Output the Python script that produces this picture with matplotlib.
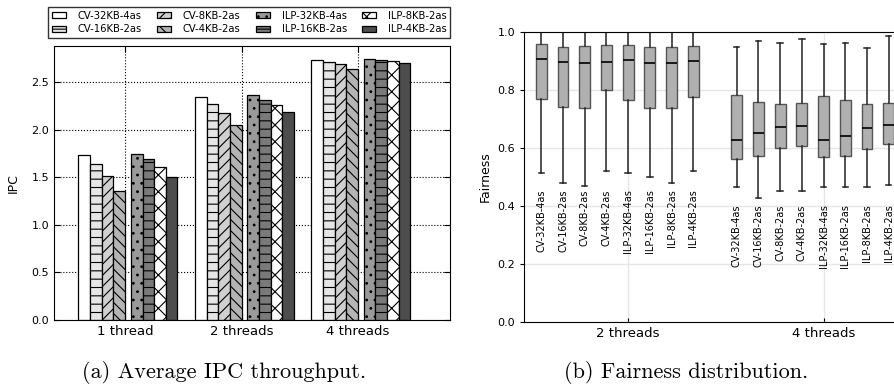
import matplotlib
matplotlib.use("Agg")
from matplotlib import pyplot as plt
import numpy as np

# configurations and groups
configs = ["CV-32KB-4as", "CV-16KB-2as", "CV-8KB-2as", "CV-4KB-2as",
           "ILP-32KB-4as", "ILP-16KB-2as", "ILP-8KB-2as", "ILP-4KB-2as"]
ipc_groups = ["1 thread", "2 threads", "4 threads"]
fair_groups = ["2 threads", "4 threads"]

# average IPC, one row per configuration (1, 2, 4 threads)
ipc = [
    [1.73, 2.345, 2.737],
    [1.635, 2.27, 2.716],
    [1.51, 2.175, 2.687],
    [1.355, 2.05, 2.635],
    [1.744, 2.36, 2.744],
    [1.69, 2.316, 2.733],
    [1.607, 2.26, 2.72],
    [1.50, 2.186, 2.70],
]

# fairness box stats: whisker low, q1, median, q3, whisker high
fair_2t_low = [0.514, 0.479, 0.470, 0.520, 0.514, 0.499, 0.480, 0.520]
fair_2t_q1 = [0.768, 0.742, 0.740, 0.800, 0.767, 0.740, 0.737, 0.777]
fair_2t_med = [0.907, 0.896, 0.894, 0.897, 0.905, 0.893, 0.893, 0.900]
fair_2t_q3 = [0.961, 0.950, 0.954, 0.957, 0.957, 0.950, 0.949, 0.953]
fair_2t_high = [1.0, 1.0, 1.0, 1.0, 1.0, 1.0, 1.0, 1.0]

fair_4t_low = [0.464, 0.426, 0.453, 0.452, 0.464, 0.464, 0.465, 0.472]
fair_4t_q1 = [0.563, 0.574, 0.599, 0.606, 0.570, 0.573, 0.598, 0.613]
fair_4t_med = [0.627, 0.651, 0.674, 0.675, 0.629, 0.643, 0.668, 0.679]
fair_4t_q3 = [0.783, 0.758, 0.753, 0.757, 0.781, 0.767, 0.753, 0.755]
fair_4t_high = [0.949, 0.971, 0.962, 0.977, 0.958, 0.963, 0.945, 0.988]

# bar styles
colors = ["white", "#e6e6e6", "#d0d0d0", "#b4b4b4", "#9a9a9a", "#7a7a7a", "white", "#4d4d4d"]
hatches = ["", "--", "///", "\\\\\\", "..", "--", "xx", ""]

W, H = 894, 385
fig = plt.figure(figsize=(W / 100, H / 100), dpi=100)
plt.rcParams['hatch.linewidth'] = 0.8

# ---- (a) average IPC ----
ax = fig.add_axes([54 / W, (H - 320) / H, (450 - 54) / W, (320 - 46) / H])
x = np.arange(len(ipc_groups))
width = 0.1
handles = []
for i, name in enumerate(configs):
    off = -0.4 + width * i if i < 4 else 0.05 + width * (i - 4)
    b = ax.bar(x + off, ipc[i], width, align='edge', color=colors[i],
               edgecolor='black', linewidth=0.9, hatch=hatches[i], label=name)
    handles.append(b)
ax.set_xlim(-0.61, 2.79)
ax.set_ylim(0, 2.88)
ax.set_xticks(x)
ax.set_xticklabels(ipc_groups, fontsize=9.5)
ax.set_yticks([0.0, 0.5, 1.0, 1.5, 2.0, 2.5])
ax.set_yticklabels(["0.0", "0.5", "1.0", "1.5", "2.0", "2.5"], fontsize=8)
ax.tick_params(direction='in', top=True, right=True, length=4)
ax.set_axisbelow(True)
ax.grid(True, color='black', linestyle=':', linewidth=0.8)
ax.set_ylabel("IPC", fontsize=9)
ax.yaxis.set_label_coords(-0.086, 0.5)
ax.legend(handles=handles, ncol=4, fontsize=7.2, loc='lower right',
          bbox_to_anchor=(1.0, 1.03), fancybox=False, edgecolor='black',
          borderaxespad=0, handlelength=1.4, handleheight=0.5,
          columnspacing=1.5, borderpad=0.35, labelspacing=0.35, handletextpad=1.2)

# ---- (b) fairness distribution ----
ax2 = fig.add_axes([524 / W, (H - 321.7) / H, (906 - 524) / W, (321.7 - 32.3) / H])
pos_2t = np.arange(1, 9)
pos_4t = np.arange(10, 18)
stats = []
for j in range(8):
    stats.append(dict(whislo=fair_2t_low[j], q1=fair_2t_q1[j], med=fair_2t_med[j],
                      q3=fair_2t_q3[j], whishi=fair_2t_high[j], fliers=[]))
for j in range(8):
    stats.append(dict(whislo=fair_4t_low[j], q1=fair_4t_q1[j], med=fair_4t_med[j],
                      q3=fair_4t_q3[j], whishi=fair_4t_high[j], fliers=[]))
ax2.bxp(stats, positions=list(pos_2t) + list(pos_4t), widths=0.5,
        patch_artist=True, showfliers=False,
        boxprops=dict(facecolor='#b0b0b0', edgecolor='#555555', linewidth=1),
        medianprops=dict(color='black', linewidth=1.2),
        whiskerprops=dict(color='#222222', linewidth=1.1),
        capprops=dict(color='#222222', linewidth=1.1))
for p, name in zip(pos_2t, configs):
    ax2.text(p, 0.458, name, rotation=90, ha='center', va='top', fontsize=7)
for p, name in zip(pos_4t, configs):
    ax2.text(p, 0.405, name, rotation=90, ha='center', va='top', fontsize=7)
ax2.set_xlim(0.2, 17.8)
ax2.set_ylim(0, 1.0)
ax2.set_xticks([5, 14])
ax2.set_xticklabels(fair_groups, fontsize=9.5)
ax2.set_yticks([0.0, 0.2, 0.4, 0.6, 0.8, 1.0])
ax2.set_yticklabels(["0.0", "0.2", "0.4", "0.6", "0.8", "1.0"], fontsize=8)
ax2.tick_params(axis='y', direction='out', length=3)
ax2.tick_params(axis='x', direction='in', length=3)
ax2.set_axisbelow(True)
ax2.grid(True, color='#e6e6e6', linewidth=1)
ax2.set_ylabel("Fairness", fontsize=9)
ax2.yaxis.set_label_coords(-0.084, 0.5)

# captions
fig.text(224 / W, 1 - 373 / H, "(a) Average IPC throughput.", family='cmr10',
         fontsize=16, ha='center', va='center')
fig.text(686 / W, 1 - 373 / H, "(b) Fairness distribution.", family='cmr10',
         fontsize=16, ha='center', va='center')

plt.savefig('out.png', dpi=100)
